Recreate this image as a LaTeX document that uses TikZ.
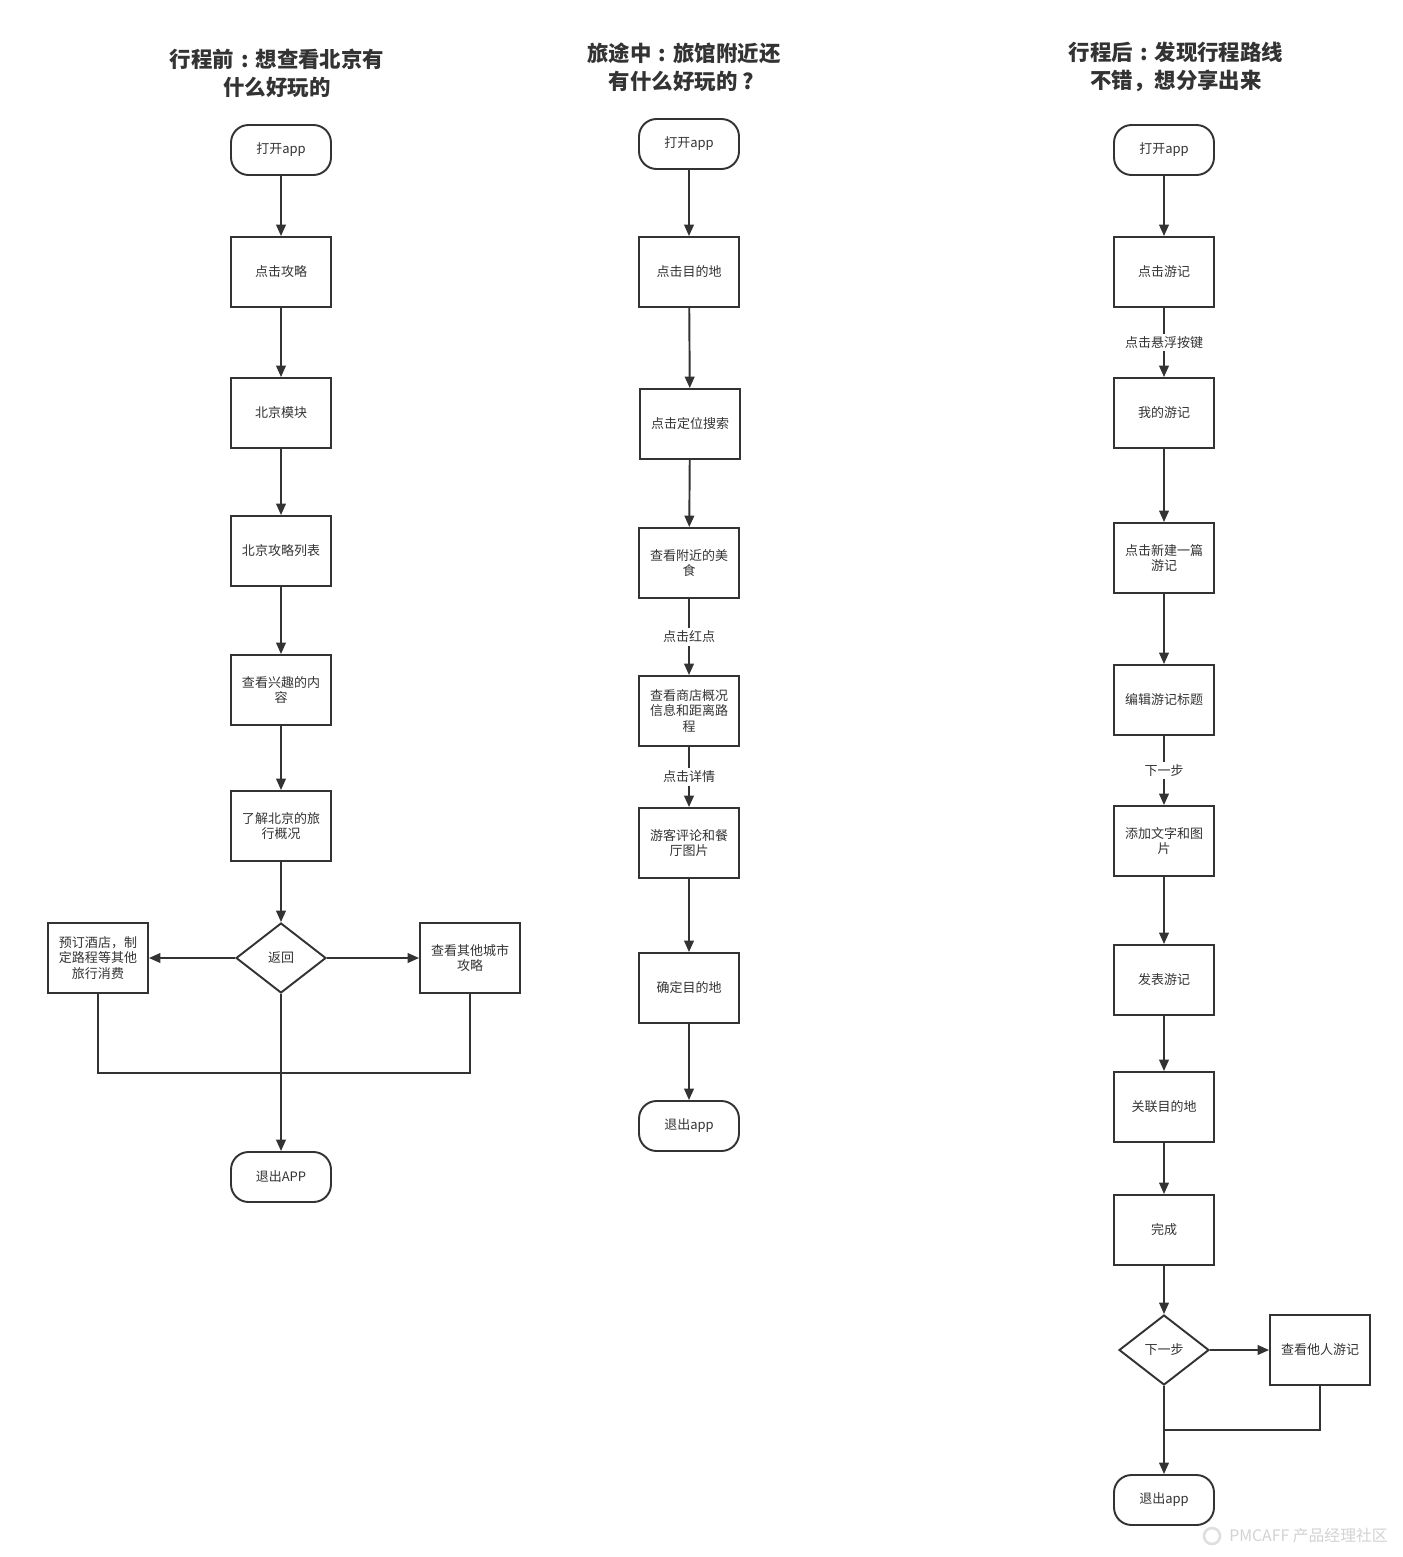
\documentclass[tikz,border=0pt]{standalone}
\usepackage{fontspec}
\setmainfont{Noto Sans CJK SC}
\usepackage{xcolor}
\usetikzlibrary{shapes.geometric,arrows.meta,positioning}
\definecolor{ink}{HTML}{333333}
\newcommand{\fwcolon}{\makebox[1em]{:}}

\begin{document}
\begin{tikzpicture}[
  x=0.02cm,y=-0.02cm,
  font=\fontsize{7.4}{9}\selectfont,text=ink,
  stepbox/.style={draw=ink,line width=1.1pt,minimum width=2cm,minimum height=1.4cm,align=center,inner sep=1pt},
  term/.style={stepbox,rounded corners=10pt,minimum height=1cm},
  dec/.style={draw=ink,line width=1.1pt,diamond,aspect=1.29,minimum width=1.8cm,minimum height=1.4cm,inner sep=0pt},
  ttl/.style={font=\fontsize{12.2}{15.9}\selectfont\bfseries,align=center},
  lbl/.style={fill=white,inner sep=1.5pt},
  arr/.style={-{Triangle[length=6.5pt,width=5.5pt]},draw=ink,line width=1.1pt},
  ln/.style={draw=ink,line width=1.1pt}
]
\useasboundingbox (0,0) rectangle (1402,1557);

% before the trip
\node[ttl] (t1) at (277,73) {行程前\fwcolon 想查看北京有\\什么好玩的};
\node[term] (a1) at (281,150) {打开app};
\node[stepbox] (a2) at (281,272) {点击攻略};
\node[stepbox] (a3) at (281,413) {北京模块};
\node[stepbox] (a4) at (281,551) {北京攻略列表};
\node[stepbox] (a5) at (281,690) {查看兴趣的内\\容};
\node[stepbox] (a6) at (281,826) {了解北京的旅\\行概况};
\node[dec] (a7) at (281,958) {返回};
\node[stepbox] (a8) at (98,958) {预订酒店，制\\定路程等其他\\旅行消费};
\node[stepbox] (a9) at (470,958) {查看其他城市\\攻略};
\node[term] (a10) at (281,1177) {退出APP};
\coordinate (j1) at (281,1073);

\draw[arr] (a1)--(a2);
\draw[arr] (a2)--(a3);
\draw[arr] (a3)--(a4);
\draw[arr] (a4)--(a5);
\draw[arr] (a5)--(a6);
\draw[arr] (a6)--(a7);
\draw[arr] (a7)--(a8);
\draw[arr] (a7)--(a9);
\draw[arr] (a7)--(a10);
\draw[ln] (a8.south) |- (j1) -| (a9.south);

% during the trip
\node[ttl] (t2) at (684,67) {旅途中\fwcolon 旅馆附近还\\有什么好玩的\makebox[1em]{?}};
\node[term] (b1) at (689,144) {打开app};
\node[stepbox] (b2) at (689,272) {点击目的地};
\node[stepbox] (b3) at (690,424) {点击定位搜索};
\node[stepbox] (b4) at (689,563) {查看附近的美\\食};
\node[stepbox] (b5) at (689,711) {查看商店概况\\信息和距离路\\程};
\node[stepbox] (b6) at (689,843) {游客评论和餐\\厅图片};
\node[stepbox] (b7) at (689,988) {确定目的地};
\node[term] (b8) at (689,1126) {退出app};

\draw[arr] (b1)--(b2);
\draw[arr] (b2)--(b3);
\draw[arr] (b3)--(b4);
\draw[arr] (b4)--node[lbl]{点击红点}(b5);
\draw[arr] (b5)--node[lbl]{点击详情}(b6);
\draw[arr] (b6)--(b7);
\draw[arr] (b7)--(b8);

% after the trip
\node[ttl] (t3) at (1176,67) {行程后\fwcolon 发现行程路线\\不错，想分享出来};
\node[term] (c1) at (1164,150) {打开app};
\node[stepbox] (c2) at (1164,272) {点击游记};
\node[stepbox] (c3) at (1164,413) {我的游记};
\node[stepbox] (c4) at (1164,558) {点击新建一篇\\游记};
\node[stepbox] (c5) at (1164,700) {编辑游记标题};
\node[stepbox] (c6) at (1164,841) {添加文字和图\\片};
\node[stepbox] (c7) at (1164,980) {发表游记};
\node[stepbox] (c8) at (1164,1107) {关联目的地};
\node[stepbox] (c9) at (1164,1230) {完成};
\node[dec] (c10) at (1164,1350) {下一步};
\node[stepbox] (c11) at (1320,1350) {查看他人游记};
\node[term] (c12) at (1164,1500) {退出app};
\coordinate (j3) at (1164,1430);

\draw[arr] (c1)--(c2);
\draw[arr] (c2)--node[lbl]{点击悬浮按键}(c3);
\draw[arr] (c3)--(c4);
\draw[arr] (c4)--(c5);
\draw[arr] (c5)--node[lbl]{下一步}(c6);
\draw[arr] (c6)--(c7);
\draw[arr] (c7)--(c8);
\draw[arr] (c8)--(c9);
\draw[arr] (c9)--(c10);
\draw[arr] (c10)--(c11);
\draw[arr] (c10)--(c12);
\draw[ln] (c11.south) |- (j3);

% watermark
\node[circle,draw=gray!25,line width=1.5pt,minimum size=0.32cm,inner sep=0pt] (logo) at (1212,1536) {};
\node[text=gray!35,font=\fontsize{9}{10}\selectfont,right=1pt of logo] (wm) {PMCAFF 产品经理社区};
\end{tikzpicture}
\end{document}
